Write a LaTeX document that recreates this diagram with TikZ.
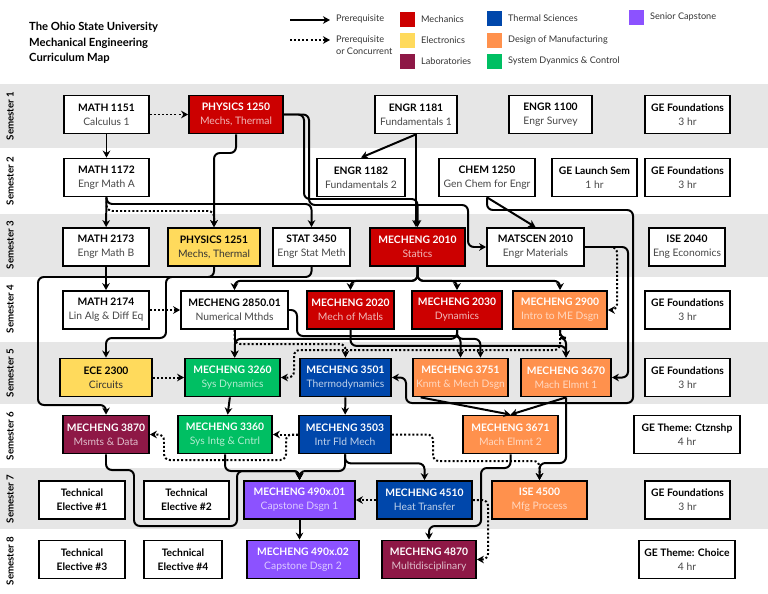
\documentclass[tikz,border=0pt]{standalone}
\usepackage{fontspec}
\setmainfont{Lato}
\usetikzlibrary{arrows.meta}
\definecolor{mechred}{HTML}{CC0000}
\definecolor{elecyel}{HTML}{FFDA5C}
\definecolor{labmaroon}{HTML}{8E1846}
\definecolor{thermblue}{HTML}{0047AB}
\definecolor{dsgnorange}{HTML}{FF914D}
\definecolor{sysgreen}{HTML}{00BF63}
\definecolor{capurple}{HTML}{8C52FF}
\definecolor{bandgray}{HTML}{E6E6E6}
\newcommand{\coursetxt}[2]{\textbf{#1}\\\textcolor{subc}{#2}}
\tikzset{
  whitebox/.style={draw=black, line width=1.5pt, fill=white, align=center, inner sep=1pt,
    minimum height=38*0.03cm, font=\fontsize{8.8}{12}\selectfont,
    execute at begin node={\colorlet{subc}{black!72}}},
  bw/.style={minimum width=#1*0.03cm},
  mechbox/.style={whitebox, fill=mechred, text=white, execute at begin node={\colorlet{subc}{white!72!mechred}}},
  elecbox/.style={whitebox, fill=elecyel, text=black, execute at begin node={\colorlet{subc}{black!80}}},
  labbox/.style={whitebox, fill=labmaroon, text=white, execute at begin node={\colorlet{subc}{white!72!labmaroon}}},
  thermbox/.style={whitebox, fill=thermblue, text=white, execute at begin node={\colorlet{subc}{white!75!thermblue}}},
  dsgnbox/.style={whitebox, fill=dsgnorange, text=white, execute at begin node={\colorlet{subc}{white!65!dsgnorange}}},
  sysbox/.style={whitebox, fill=sysgreen, text=white, execute at begin node={\colorlet{subc}{white!70!sysgreen}}},
  capbox/.style={whitebox, fill=capurple, text=white, execute at begin node={\colorlet{subc}{white!70!capurple}}},
  prereq/.style={line width=1.7pt, rounded corners=5pt, -{Stealth[length=6pt,width=6.5pt]}},
  concur/.style={prereq, dash pattern=on 1.7pt off 1.8pt},
  legtext/.style={anchor=west, text=black!80, font=\fontsize{7.8}{9.8}\selectfont}
}

\begin{document}
\begin{tikzpicture}[x=0.03cm,y=-0.03cm]
  \useasboundingbox (0,0) rectangle (768,593);
  % semester bands
  \fill[bandgray] (0,84) rectangle (768,148);
  \fill[bandgray] (0,214) rectangle (768,277);
  \fill[bandgray] (0,342) rectangle (768,404);
  \fill[bandgray] (0,468) rectangle (768,529);
  \foreach \s/\y in {1/116,2/181,3/245,4/309,5/373,6/436,7/499,8/561}
    \node[rotate=90, font=\bfseries\fontsize{8.3}{9}\selectfont] (sem\s) at (10,\y) {Semester \s};

  % title
  \node[anchor=base west, font=\bfseries\fontsize{9.6}{11}\selectfont] (title1) at (25,31) {The Ohio State University};
  \node[anchor=base west, font=\bfseries\fontsize{9.6}{11}\selectfont] (title2) at (25,46.5) {Mechanical Engineering};
  \node[anchor=base west, font=\bfseries\fontsize{9.6}{11}\selectfont] (title3) at (25,62) {Curriculum Map};

  % legend
  \coordinate (lgsa) at (290,20);
  \coordinate (lgsb) at (330,20);
  \coordinate (lgda) at (290,40);
  \coordinate (lgdb) at (330,40);
  \draw[prereq] (lgsa) -- (lgsb);
  \draw[concur] (lgda) -- (lgdb);
  \node[legtext] (lgs) at (332,19) {Prerequisite};
  \node[legtext, anchor=north west, align=left] (lgd) at (332,32) {Prerequisite\\or Concurrent};
  \foreach \c/\x/\y/\t in {mechred/400/12/Mechanics, elecyel/400/33/Electronics,
      labmaroon/400/54/Laboratories, thermblue/487/11/Thermal Sciences,
      dsgnorange/487/33/Design of Manufacturing, sysgreen/487/54/System Dyanmics \& Control,
      capurple/629/10/Senior Capstone}{
    \fill[\c] (\x,\y) rectangle ++(15,15);
    \node[legtext] at (\x+17,\y+7) {\t};
  }

  % semester 1
  \node[whitebox, bw=85] (m1151) at (106.5,114.5) {\coursetxt{MATH 1151}{Calculus 1}};
  \node[mechbox, bw=94] (p1250) at (236,114.5) {\coursetxt{PHYSICS 1250}{Mechs, Thermal}};
  \node[whitebox, bw=82] (e1181) at (416,114.5) {\coursetxt{ENGR 1181}{Fundamentals 1}};
  \node[whitebox, bw=83] (e1100) at (550.5,114.5) {\coursetxt{ENGR 1100}{Engr Survey}};
  \node[whitebox, bw=85] (ge1) at (687.5,114.5) {\coursetxt{GE Foundations}{3 hr}};
  % semester 2
  \node[whitebox, bw=85] (m1172) at (106.5,177.5) {\coursetxt{MATH 1172}{Engr Math A}};
  \node[whitebox, bw=88] (e1182) at (361,177.5) {\coursetxt{ENGR 1182}{Fundamentals 2}};
  \node[whitebox, bw=96] (c1250) at (487,177.5) {\coursetxt{CHEM 1250}{Gen Chem for Engr}};
  \node[whitebox, bw=85] (gels) at (594.5,177.5) {\coursetxt{GE Launch Sem}{1 hr}};
  \node[whitebox, bw=85] (ge2) at (687.5,177.5) {\coursetxt{GE Foundations}{3 hr}};
  % semester 3
  \node[whitebox, bw=86] (m2173) at (106,247) {\coursetxt{MATH 2173}{Engr Math B}};
  \node[elecbox, bw=92] (p1251) at (214,247) {\coursetxt{PHYSICS 1251}{Mechs, Thermal}};
  \node[whitebox, bw=77] (s3450) at (311.5,247) {\coursetxt{STAT 3450}{Engr Stat Meth}};
  \node[mechbox, bw=95] (me2010) at (417.5,247) {\coursetxt{MECHENG 2010}{Statics}};
  \node[whitebox, bw=97] (ms2010) at (535.5,247) {\coursetxt{MATSCEN 2010}{Engr Materials}};
  \node[whitebox, bw=76] (ise2040) at (687,247) {\coursetxt{ISE 2040}{Eng Economics}};
  % semester 4
  \node[whitebox, bw=86] (m2174) at (106,310) {\coursetxt{MATH 2174}{Lin Alg \& Diff Eq}};
  \node[whitebox, bw=107] (me2850) at (234.5,310) {\coursetxt{MECHENG 2850.01}{Numerical Mthds}};
  \node[mechbox, bw=87] (me2020) at (350.5,310) {\coursetxt{MECHENG 2020}{Mech of Matls}};
  \node[mechbox, bw=90] (me2030) at (457,310) {\coursetxt{MECHENG 2030}{Dynamics}};
  \node[dsgnbox, bw=94] (me2900) at (560,310) {\coursetxt{MECHENG 2900}{Intro to ME Dsgn}};
  \node[whitebox, bw=85] (ge4) at (687.5,310) {\coursetxt{GE Foundations}{3 hr}};
  % semester 5
  \node[elecbox, bw=92] (ece2300) at (106,377.5) {\coursetxt{ECE 2300}{Circuits}};
  \node[sysbox, bw=95] (me3260) at (232.5,377.5) {\coursetxt{MECHENG 3260}{Sys Dynamics}};
  \node[thermbox, bw=91] (me3501) at (345.5,377.5) {\coursetxt{MECHENG 3501}{Thermodynamics}};
  \node[dsgnbox, bw=95] (me3751) at (460.5,377.5) {\coursetxt{MECHENG 3751}{Knmt \& Mech Dsgn}};
  \node[dsgnbox, bw=90] (me3670) at (566,377.5) {\coursetxt{MECHENG 3670}{Mach Elmnt 1}};
  \node[whitebox, bw=85] (ge5) at (687.5,377.5) {\coursetxt{GE Foundations}{3 hr}};
  % semester 6
  \node[labbox, bw=86] (me3870) at (106,434.5) {\coursetxt{MECHENG 3870}{Msmts \& Data}};
  \node[sysbox, bw=94] (me3360) at (225,434.5) {\coursetxt{MECHENG 3360}{Sys Intg \& Cntrl}};
  \node[thermbox, bw=92] (me3503) at (345,434.5) {\coursetxt{MECHENG 3503}{Intr Fld Mech}};
  \node[dsgnbox, bw=95] (me3671) at (510.5,434.5) {\coursetxt{MECHENG 3671}{Mach Elmnt 2}};
  \node[whitebox, bw=106] (ge6) at (687,434.5) {\coursetxt{GE Theme: Ctznshp}{4 hr}};
  % semester 7
  \node[whitebox, bw=86] (te1) at (82,500) {\textbf{Technical}\\\textbf{Elective \#1}};
  \node[whitebox, bw=85] (te2) at (186.5,500) {\textbf{Technical}\\\textbf{Elective \#2}};
  \node[capbox, bw=111] (me4901) at (299.5,500) {\coursetxt{MECHENG 490x.01}{Capstone Dsgn 1}};
  \node[thermbox, bw=95] (me4510) at (424.5,500) {\coursetxt{MECHENG 4510}{Heat Transfer}};
  \node[dsgnbox, bw=95] (ise4500) at (539.5,500) {\coursetxt{ISE 4500}{Mfg Process}};
  \node[whitebox, bw=85] (ge7) at (687.5,500) {\coursetxt{GE Foundations}{3 hr}};
  % semester 8
  \node[whitebox, bw=86] (te3) at (82,559.5) {\textbf{Technical}\\\textbf{Elective \#3}};
  \node[whitebox, bw=78] (te4) at (183,559.5) {\textbf{Technical}\\\textbf{Elective \#4}};
  \node[capbox, bw=112] (me4902) at (303,559.5) {\coursetxt{MECHENG 490x.02}{Capstone Dsgn 2}};
  \node[labbox, bw=94] (me4870) at (429,559.5) {\coursetxt{MECHENG 4870}{Multidisciplinary}};
  \node[whitebox, bw=96] (ge8) at (687,559.5) {\coursetxt{GE Theme: Choice}{4 hr}};

  % year 1
  \draw[concur] (m1151) -- (p1250);
  \draw[prereq] (m1151) -- (m1172);
  \draw[prereq] (e1181.south) -- (e1182.north);
  \draw[prereq] (e1181.south) -- (e1181.south |- me2010.north);
  \draw[prereq] (p1250.south) |- (214,153) -- (p1251.north);
  \draw[prereq] (p1250.east) -| (304,199) -| (me2010.north);
  \draw[prereq] (p1250.east) -| (309,205) -| (468,247) -- (ms2010.west);
  \draw[prereq] (m1172) -- (m2173);
  \draw[prereq] (m1172.south) |- (311.5,204) -- (s3450.north);
  \draw[concur] (m1172.south) |- (214,211) -- (p1251.north);
  \draw[prereq] (c1250.south) -- (ms2010.north);
  \draw[prereq] (c1250.south) |- (633,210) |- (406,403) |- (me3501.east);
  % year 2
  \draw[prereq] (ms2010.east) -| (628,377.5) -- (me3670.east);
  \draw[concur] (ms2010.east) -| (617,310) -- (me2900.east);
  \draw[prereq] (m2173) -- (m2174);
  \draw[concur] (m2174) -- (me2850);
  \draw[prereq] (me2010.south) -- ++(0,14) -| (me2850.north);
  \draw[prereq] (me2010.south) -- ++(0,14) -| (me2020.north);
  \draw[prereq] (me2010.south) -- ++(0,14) -| (me2030.north);
  \draw[prereq] (me2010.south) -- ++(0,14) -| (me2900.north);
  \draw[prereq] (p1251.south) |- (166,277) -- (166,338) -| (ece2300.north);
  \draw[prereq] (s3450.south) |- (38,277) -- (38,405) -| (me3870.north);
  \draw[prereq] (me2850.south) -- (me2850.south |- me3260.north);
  \draw[concur] (me2850.south) |- (345.5,344) -- (me3501.north);
  \draw[prereq] (me2850.east) -| (297,336) -| (me3751.north);
  \draw[prereq] (me2030.south) -- ++(0,9) -| ([xshift=2pt]me3260.north);
  \draw[prereq] (me2030.south) -- ++(0,9) -| ([xshift=17pt]me3751.north);
  \draw[prereq] (me2020.south) -- ++(0,16) -| (me3670.north);
  \draw[prereq] (me2900.south) -- ++(0,8) -| (me3670.north);
  \draw[concur] (me2900.south) |- (294,350) |- (me3260.east);
  % year 3
  \draw[concur] (ece2300) -- (me3260);
  \draw[prereq] (me3260) -- (me3360);
  \draw[prereq] (me3501) -- (me3503);
  \draw[prereq] ([xshift=-34pt]me3751.south) -- (me3671.north);
  \draw[prereq] (me3670.south) -- (me3671.north);
  \draw[prereq] (me3670.south) -- (566,463) -| (ise4500.north);
  \draw[concur] (me3503.east) -| (433,461) -| (ise4500.north);
  \draw[concur] (me3503) -- (me3360);
  \draw[concur] (me3503.west) -| (286,460) -| (164,434.5) -- (me3870.east);
  % year 4
  \draw[prereq] (me3360.south) |- (299.5,471) -- (me4901.north);
  \draw[prereq] (me3503.south) |- (299.5,471) -- (me4901.north);
  \draw[prereq] (me3503.south) -- ++(0,9) -| (me4510.north);
  \draw[prereq] (me3870.south) |- (134,470) |- (237,526) |- (299.5,471) -- (me4901.north);
  \draw[prereq] (me3671.south) |- (481,468) |- (429,526) -- (me4870.north);
  \draw[prereq] (me4901.south) -- (me4901.south |- me4902.north);
  \draw[concur] (me4510) -- (me4901);
  \draw[concur] (me4510.east) -| (488,559.5) -- (me4870.east);
\end{tikzpicture}
\end{document}
